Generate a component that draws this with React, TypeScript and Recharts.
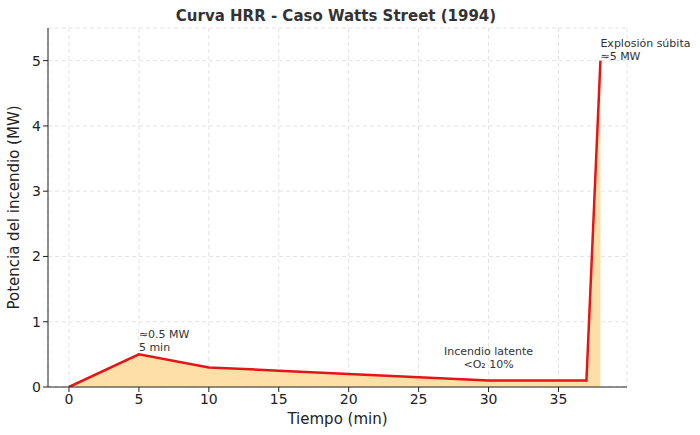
import React from "react";
import { ComposedChart, Area, XAxis, YAxis, CartesianGrid, ReferenceDot } from "recharts";

const times = [0, 5, 10, 15, 20, 25, 30, 37, 38];
const power = [0, 0.5, 0.3, 0.25, 0.2, 0.15, 0.1, 0.1, 5];
const xTicks = [0, 5, 10, 15, 20, 25, 30, 35];
const yTicks = [0, 1, 2, 3, 4, 5];

const data = times.map((t, i) => ({ t, p: power[i] }));
const F = "DejaVu Sans, sans-serif";

const MultiLabel = (lines: string[], anchor: "start" | "middle", dx: number, dy: number) => (props: any) => {
  const { viewBox } = props;
  const x = viewBox.x + dx;
  const y = viewBox.y + dy;
  return (
    <text x={x} y={y} fontFamily={F} fontSize={11} fill="#333" textAnchor={anchor}>
      {lines.map((l, i) => (
        <tspan key={i} x={x} dy={i === 0 ? 0 : 13}>{l}</tspan>
      ))}
    </text>
  );
};

export default function App() {
  return (
    <div style={{ position: "fixed", left: 0, top: 0, width: 700, height: 435, background: "#fff" }}>
      <ComposedChart width={700} height={435} data={data} margin={{ top: 28, right: 73, bottom: 0, left: 0 }}>
        <text x={336} y={21} textAnchor="middle" fontFamily={F} fontSize={15} fontWeight="bold" fill="#333">
          Curva HRR - Caso Watts Street (1994)
        </text>
        <CartesianGrid stroke="#e4e4e4" strokeDasharray="4 3" />
        <XAxis dataKey="t" type="number" domain={[-1.5, 39.9]} ticks={xTicks} height={48} tickSize={5}
          tick={{ fontFamily: F, fontSize: 14, fill: "#222" }} stroke="#222" tickLine={{ stroke: "#222" }}
          label={{ value: "Tiempo (min)", position: "insideBottom", offset: 11, fontFamily: F, fontSize: 15, fill: "#222" }} />
        <YAxis type="number" domain={[0, 5.5]} ticks={yTicks} width={48} allowDataOverflow tickSize={5}
          tick={{ fontFamily: F, fontSize: 14, fill: "#222" }} stroke="#222"
          label={{ value: "Potencia del incendio (MW)", angle: -90, position: "insideLeft", offset: 14, fontFamily: F, fontSize: 15, fill: "#222", style: { textAnchor: "middle" } }} />
        <Area type="linear" dataKey="p" stroke="#e51515" strokeWidth={2.5} fill="#ffdfa8" fillOpacity={1} isAnimationActive={false} dot={false} />
        <ReferenceDot x={5} y={0.5} r={0} ifOverflow="visible" label={MultiLabel(["≈0.5 MW", "5 min"], "start", 0, -16)} />
        <ReferenceDot x={30} y={0.1} r={0} ifOverflow="visible" label={MultiLabel(["Incendio latente", "<O₂ 10%"], "middle", 0, -25)} />
        <ReferenceDot x={38} y={5} r={0} ifOverflow="visible" label={MultiLabel(["Explosión súbita", "≈5 MW"], "start", 0, -14)} />
      </ComposedChart>
    </div>
  );
}
